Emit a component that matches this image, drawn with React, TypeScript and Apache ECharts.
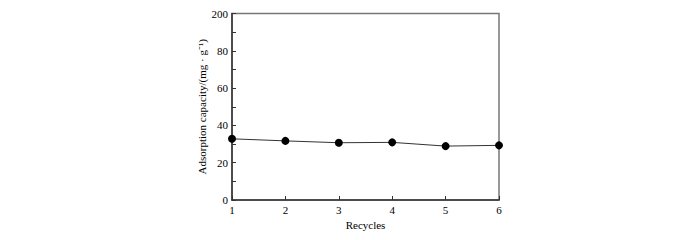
import React, { useEffect, useRef } from "react";
import * as echarts from "echarts";

const cycles = [1, 2, 3, 4, 5, 6];
const capacity = [32.8, 31.7, 30.7, 30.9, 28.9, 29.3];
const yTickLabels = ["0", "20", "40", "60", "80", "200"];
const xTitle = "Recycles";
const yTitle = "Adsorption capacity/(mg · g⁻¹)";

export default function App() {
  const ref = useRef<HTMLDivElement>(null);
  useEffect(() => {
    const chart = echarts.init(ref.current!, null, { renderer: "svg" });
    const font = "Liberation Serif";
    chart.setOption({
      animation: false,
      textStyle: { fontFamily: font },
      grid: {
        left: 224,
        right: 193,
        top: 2,
        bottom: 40,
        show: true,
        borderColor: "#777",
        borderWidth: 1.5,
        backgroundColor: "transparent",
      },
      xAxis: {
        type: "value",
        min: 1,
        max: 6,
        interval: 1,
        name: xTitle,
        nameLocation: "middle",
        nameGap: 14,
        nameTextStyle: { fontFamily: font, fontSize: 11, color: "#000" },
        axisLine: { lineStyle: { color: "#333", width: 1.5 } },
        axisTick: { inside: true, length: 4, lineStyle: { color: "#333" } },
        axisLabel: {
          fontFamily: font,
          fontSize: 11,
          color: "#000",
          margin: 4,
          formatter: (v: number) => String(cycles[cycles.indexOf(v)] ?? v),
        },
        splitLine: { show: false },
      },
      yAxis: {
        type: "value",
        min: 0,
        max: 100,
        interval: 20,
        name: yTitle,
        nameLocation: "middle",
        nameGap: 21,
        nameTextStyle: { fontFamily: font, fontSize: 11, color: "#000" },
        axisLine: { show: true, lineStyle: { color: "#333", width: 1.5 } },
        axisTick: { show: true, inside: true, length: 4, lineStyle: { color: "#333" } },
        minorTick: { show: true, splitNumber: 2, length: 4, lineStyle: { color: "#333" } },
        axisLabel: {
          fontFamily: font,
          fontSize: 11,
          color: "#000",
          margin: 4,
          formatter: (v: number) => yTickLabels[Math.round(v / 20)],
        },
        splitLine: { show: false },
      },
      series: [
        {
          type: "line",
          data: cycles.map((c, i) => [c, capacity[i]]),
          symbol: "circle",
          symbolSize: 8,
          itemStyle: { color: "#000" },
          lineStyle: { color: "#333", width: 1 },
        },
      ],
    });
    return () => chart.dispose();
  }, []);
  return <div ref={ref} style={{ width: 684, height: 232 }} />;
}
